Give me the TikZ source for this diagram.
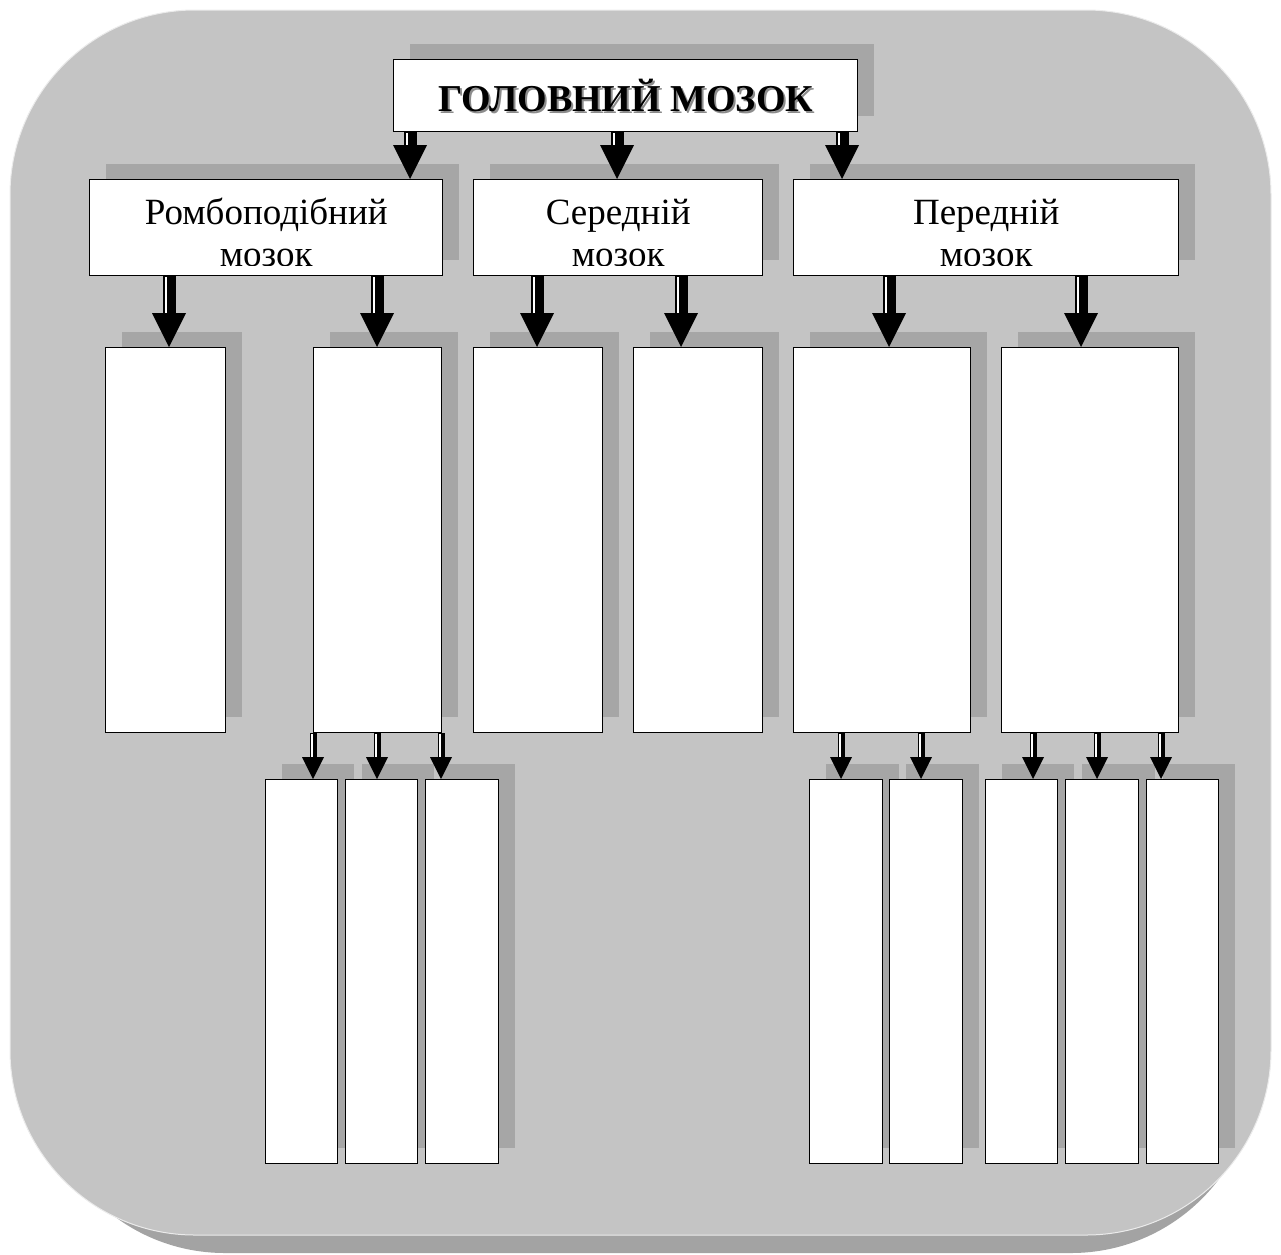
\documentclass[tikz,border=0pt]{standalone}
\usepackage{fontspec}
\setmainfont{Liberation Serif}
\usepackage{tikz}
\usetikzlibrary{arrows.meta, shadows, positioning}

\definecolor{panelgray}{RGB}{196,196,196}
\definecolor{panelshade}{RGB}{163,163,163}
\definecolor{boxshade}{RGB}{166,166,166}

\tikzset{
    block/.style={draw, line width=1.4pt, fill=white, anchor=north west, inner sep=0pt,
        drop shadow={shadow xshift=16pt, shadow yshift=16pt, fill=boxshade, opacity=1}},
    lbl/.style={anchor=base, inner sep=0pt, font=\fontsize{37}{40}\selectfont},
    bigarrow/.style={line width=13pt, -{Triangle[width=34pt, length=34pt, line width=0pt]},
        postaction={draw=white, line width=2.5pt, -, shorten >=34pt, shorten <=1pt,
            transform canvas={xshift=-3pt}}},
    smallarrow/.style={line width=7pt, -{Triangle[width=22pt, length=22pt, line width=0pt]},
        postaction={draw=white, line width=1.8pt, -, shorten >=22pt, shorten <=1pt,
            transform canvas={xshift=-1.2pt}}}
}

\begin{document}
\begin{tikzpicture}[x=1pt, y=-1pt]
    \useasboundingbox (0,0) rectangle (1281,1254);

    % Panel and its shadow
    \fill[panelshade, rounded corners=185pt] (40,28) rectangle (1256,1253);
    \filldraw[fill=panelgray, draw=black!8, line width=1pt, rounded corners=185pt] (10,10) rectangle (1271,1235);

    % Top box
    \node[block, minimum width=464pt, minimum height=72pt] (brain) at (393,59) {};
    \node[text=black!45, font=\fontsize{38}{40}\selectfont\bfseries] (brainshade)
        at ([shift={(2pt,-2pt)}]brain.center) {ГОЛОВНИЙ МОЗОК};
    \node[font=\fontsize{38}{40}\selectfont\bfseries] (braintext) at (brain.center) {ГОЛОВНИЙ МОЗОК};

    % Second level
    \node[block, minimum width=353pt, minimum height=96pt] (rhomb) at (89,179) {};
    \node[block, minimum width=289pt, minimum height=96pt] (mid) at (473,179) {};
    \node[block, minimum width=385pt, minimum height=96pt] (fore) at (793,179) {};

    % Labels of the second level, cut by the box bottom
    \foreach \b/\t in {rhomb/Ромбоподібний, mid/Середній, fore/Передній} {
        \begin{scope}
            \clip ([xshift=1pt]\b.north west) rectangle ([shift={(-1pt,11pt)}]\b.south east);
            \node[lbl] (\b top) at ([yshift=-45pt]\b.north) {\t};
            \node[lbl] (\b low) at ([yshift=-87.5pt]\b.north) {мозок};
        \end{scope}
    }

    % Third level
    \node[block, minimum width=120pt, minimum height=385pt] (hindA) at (105,347) {};
    \node[block, minimum width=128pt, minimum height=385pt] (hindB) at (313,347) {};
    \node[block, minimum width=129pt, minimum height=385pt] (midA) at (473,347) {};
    \node[block, minimum width=129pt, minimum height=385pt] (midB) at (633,347) {};
    \node[block, minimum width=177pt, minimum height=385pt] (foreA) at (793,347) {};
    \node[block, minimum width=177pt, minimum height=385pt] (foreB) at (1001,347) {};

    % Fourth level
    \node[block, minimum width=72pt, minimum height=384pt] (hindBa) at (265,779) {};
    \node[block, minimum width=72pt, minimum height=384pt] (hindBb) at (345,779) {};
    \node[block, minimum width=73pt, minimum height=384pt] (hindBc) at (425,779) {};
    \node[block, minimum width=73pt, minimum height=384pt] (foreAa) at (809,779) {};
    \node[block, minimum width=73pt, minimum height=384pt] (foreAb) at (889,779) {};
    \node[block, minimum width=72pt, minimum height=384pt] (foreBa) at (985,779) {};
    \node[block, minimum width=73pt, minimum height=384pt] (foreBb) at (1065,779) {};
    \node[block, minimum width=72pt, minimum height=384pt] (foreBc) at (1146,779) {};

    % Arrows
    \draw[bigarrow] (410,0 |- brain.south) -- (410,0 |- rhomb.north);
    \draw[bigarrow] (617,0 |- brain.south) -- (617,0 |- mid.north);
    \draw[bigarrow] (842,0 |- brain.south) -- (842,0 |- fore.north);

    \draw[bigarrow] (169,0 |- rhomb.south) -- (169,0 |- hindA.north);
    \draw[bigarrow] (377,0 |- rhomb.south) -- (377,0 |- hindB.north);
    \draw[bigarrow] (537,0 |- mid.south) -- (537,0 |- midA.north);
    \draw[bigarrow] (681,0 |- mid.south) -- (681,0 |- midB.north);
    \draw[bigarrow] (889,0 |- fore.south) -- (889,0 |- foreA.north);
    \draw[bigarrow] (1081,0 |- fore.south) -- (1081,0 |- foreB.north);

    \draw[smallarrow] (313,0 |- hindB.south) -- (313,0 |- hindBa.north);
    \draw[smallarrow] (377,0 |- hindB.south) -- (377,0 |- hindBb.north);
    \draw[smallarrow] (441,0 |- hindB.south) -- (441,0 |- hindBc.north);
    \draw[smallarrow] (841,0 |- foreA.south) -- (841,0 |- foreAa.north);
    \draw[smallarrow] (921,0 |- foreA.south) -- (921,0 |- foreAb.north);
    \draw[smallarrow] (1033,0 |- foreB.south) -- (1033,0 |- foreBa.north);
    \draw[smallarrow] (1097,0 |- foreB.south) -- (1097,0 |- foreBb.north);
    \draw[smallarrow] (1161,0 |- foreB.south) -- (1161,0 |- foreBc.north);
\end{tikzpicture}
\end{document}
